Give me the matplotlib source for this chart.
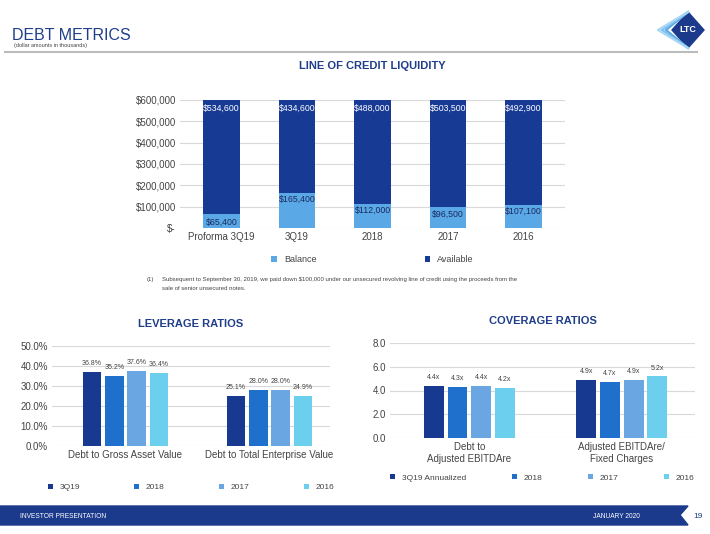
import matplotlib
matplotlib.use("Agg")
import matplotlib.pyplot as plt
import numpy as np
from matplotlib.patches import Polygon

# line of credit
loc_cats = ["Proforma 3Q19", "3Q19", "2018", "2017", "2016"]
loc_balance = [65400, 165400, 112000, 96500, 107100]
loc_available = [534600, 434600, 488000, 503500, 492900]

# leverage
lev_groups = ["Debt to Gross Asset Value", "Debt to Total Enterprise Value"]
lev_series = ["3Q19", "2018", "2017", "2016"]
lev_vals = [[36.8, 25.1], [35.2, 28.0], [37.6, 28.0], [36.4, 24.9]]

# coverage
cov_groups = ["Debt to\nAdjusted EBITDAre", "Adjusted EBITDAre/\nFixed Charges"]
cov_series = ["3Q19 Annualized", "2018", "2017", "2016"]
cov_vals = [[4.4, 4.9], [4.3, 4.7], [4.4, 4.9], [4.2, 5.2]]

NAVY = "#1b3a8c"
TITLE = "#1f3d8a"
SER_COLORS = ["#173a90", "#1f6fcc", "#6aa6e2", "#6dcfee"]
BAL = "#5aa8e6"
AVA = "#173a95"
GRID = "#d9d9d9"
TXT = "#444444"

plt.rcParams["font.family"] = ["Liberation Sans", "DejaVu Sans"]
fig = plt.figure(figsize=(7.1, 5.34), dpi=100)
W, H = 710, 534


def px(x0, y0, x1, y1):
    return [x0 / W, 1 - y1 / H, (x1 - x0) / W, (y1 - y0) / H]


def style(ax):
    for s in ax.spines.values():
        s.set_visible(False)
    ax.tick_params(length=0, labelsize=7, colors=TXT, pad=3)
    ax.yaxis.grid(True, color=GRID, lw=0.8)
    ax.set_axisbelow(True)


# header
fig.text(12 / W, 1 - 35 / H, "DEBT METRICS", fontsize=11.5, color=TITLE, va="center")
fig.text(14 / W, 1 - 46 / H, "(dollar amounts in thousands)", fontsize=4, color=TXT, va="center")
fig.add_artist(plt.Line2D([5 / W, 697 / W], [1 - 52 / H] * 2, color="#bbbbbb", lw=1.5))
# logo
lg = fig.add_axes(px(648, 10, 705, 50))
lg.set_xlim(0, 57); lg.set_ylim(0, 40); lg.axis("off")
for k, c in enumerate(["#5aa8e6", "#7fc0ee", "#a8d6f4"]):
    o = 4 + k * 4
    lg.plot([40, 22 - o, 40], [38, 20, 2], color=c, lw=1.6)
lg.add_patch(Polygon([[40, 38], [56, 20], [40, 2], [24, 20]], color=NAVY))
lg.text(40, 20, "LTC", color="white", fontsize=6.5, ha="center", va="center", weight="bold")

# top chart
ax = fig.add_axes(px(180, 100, 565, 228))
style(ax)
x = np.arange(len(loc_cats))
ax.bar(x, loc_balance, 0.48, color=BAL, label="Balance")
ax.bar(x, loc_available, 0.48, bottom=loc_balance, color=AVA, label="Available")
for i in range(len(x)):
    ax.text(x[i], 25000 if i == 0 else loc_balance[i] - 30000, f"${loc_balance[i]:,}",
            ha="center", va="center", fontsize=6.3, color="#1a2a60")
    ax.text(x[i], 560000, f"${loc_available[i]:,}", ha="center", va="center",
            fontsize=6.3, color="white")
ax.set_ylim(0, 600000)
ax.set_yticks(range(0, 600001, 100000))
ax.set_yticklabels(["$-"] + [f"${v:,}" for v in range(100000, 600001, 100000)])
ax.set_xticks(x); ax.set_xticklabels(loc_cats)
ax.set_xlim(-0.55, 4.55)
ax.set_title("LINE OF CREDIT LIQUIDITY", fontsize=8, color=TITLE, weight="bold", pad=22)
ax.legend(loc="upper center", bbox_to_anchor=(0.5, -0.15), ncol=2, frameon=False,
          fontsize=6.5, handlelength=0.6, handleheight=0.6, columnspacing=12,
          labelcolor=TXT)
fig.text(147 / W, 1 - 280 / H, "(1)", fontsize=4.3, color=TXT, va="center")
fig.text(162 / W, 1 - 280 / H,
         "Subsequent to September 30, 2019, we paid down $100,000 under our unsecured revolving line of credit using the proceeds from the",
         fontsize=4.3, color=TXT, va="center")
fig.text(162 / W, 1 - 288 / H, "sale of senior unsecured notes.", fontsize=4.3, color=TXT, va="center")


def grouped(rect, groups, series, vals, fmt, ylim, yticks, ytl, title, xlim, lspace):
    a = fig.add_axes(px(*rect))
    style(a)
    gx = np.arange(len(groups))
    w, step = 0.13, 0.155
    for j, (nm, v) in enumerate(zip(series, vals)):
        pos = gx + (j - 1.5) * step
        a.bar(pos, v, w, color=SER_COLORS[j], label=nm)
        for p, val in zip(pos, v):
            a.text(p, val + ylim[1] * 0.05, fmt(val), ha="center", va="bottom",
                   fontsize=5, color=TXT)
    a.set_ylim(*ylim)
    a.set_yticks(yticks); a.set_yticklabels(ytl)
    a.set_xticks(gx); a.set_xticklabels(groups, fontsize=7)
    a.set_xlim(*xlim)
    a.set_title(title, fontsize=8, color=TITLE, weight="bold", pad=14)
    a.legend(loc="upper center", bbox_to_anchor=(0.5, -0.3), ncol=4, frameon=False,
             fontsize=6, handlelength=0.6, handleheight=0.6, columnspacing=lspace,
             labelcolor=TXT)
    return a


lev_fmt = lambda v: f"{v:.1f}%"
grouped((52, 346, 330, 446), lev_groups, lev_series, lev_vals, lev_fmt, (0, 50),
        range(0, 51, 10), [f"{v:.1f}%" for v in range(0, 51, 10)], "LEVERAGE RATIOS",
        (-0.51, 1.42), 6.5)
cov_fmt = lambda v: f"{v:.1f}x"
grouped((390, 343, 695, 438), cov_groups, cov_series, cov_vals, cov_fmt, (0, 8),
        range(0, 9, 2), [f"{v:.1f}" for v in range(0, 9, 2)], "COVERAGE RATIOS",
        (-0.52, 1.48), 5.5)

# footer
fig.add_artist(Polygon([[0, 1 - 506 / H], [688 / W, 1 - 506 / H], [680 / W, 1 - 515 / H],
                        [688 / W, 1 - 525 / H], [0, 1 - 525 / H]],
                       closed=True, color=NAVY, transform=fig.transFigure))
fig.text(20 / W, 1 - 516 / H, "INVESTOR PRESENTATION", fontsize=4.8, color="white", va="center")
fig.text(640 / W, 1 - 516 / H, "JANUARY 2020", fontsize=4.8, color="white", va="center", ha="right")
fig.text(698 / W, 1 - 516 / H, "19", fontsize=6, color=TITLE, va="center", ha="center")

fig.savefig("out.png", dpi=100, facecolor="white")
